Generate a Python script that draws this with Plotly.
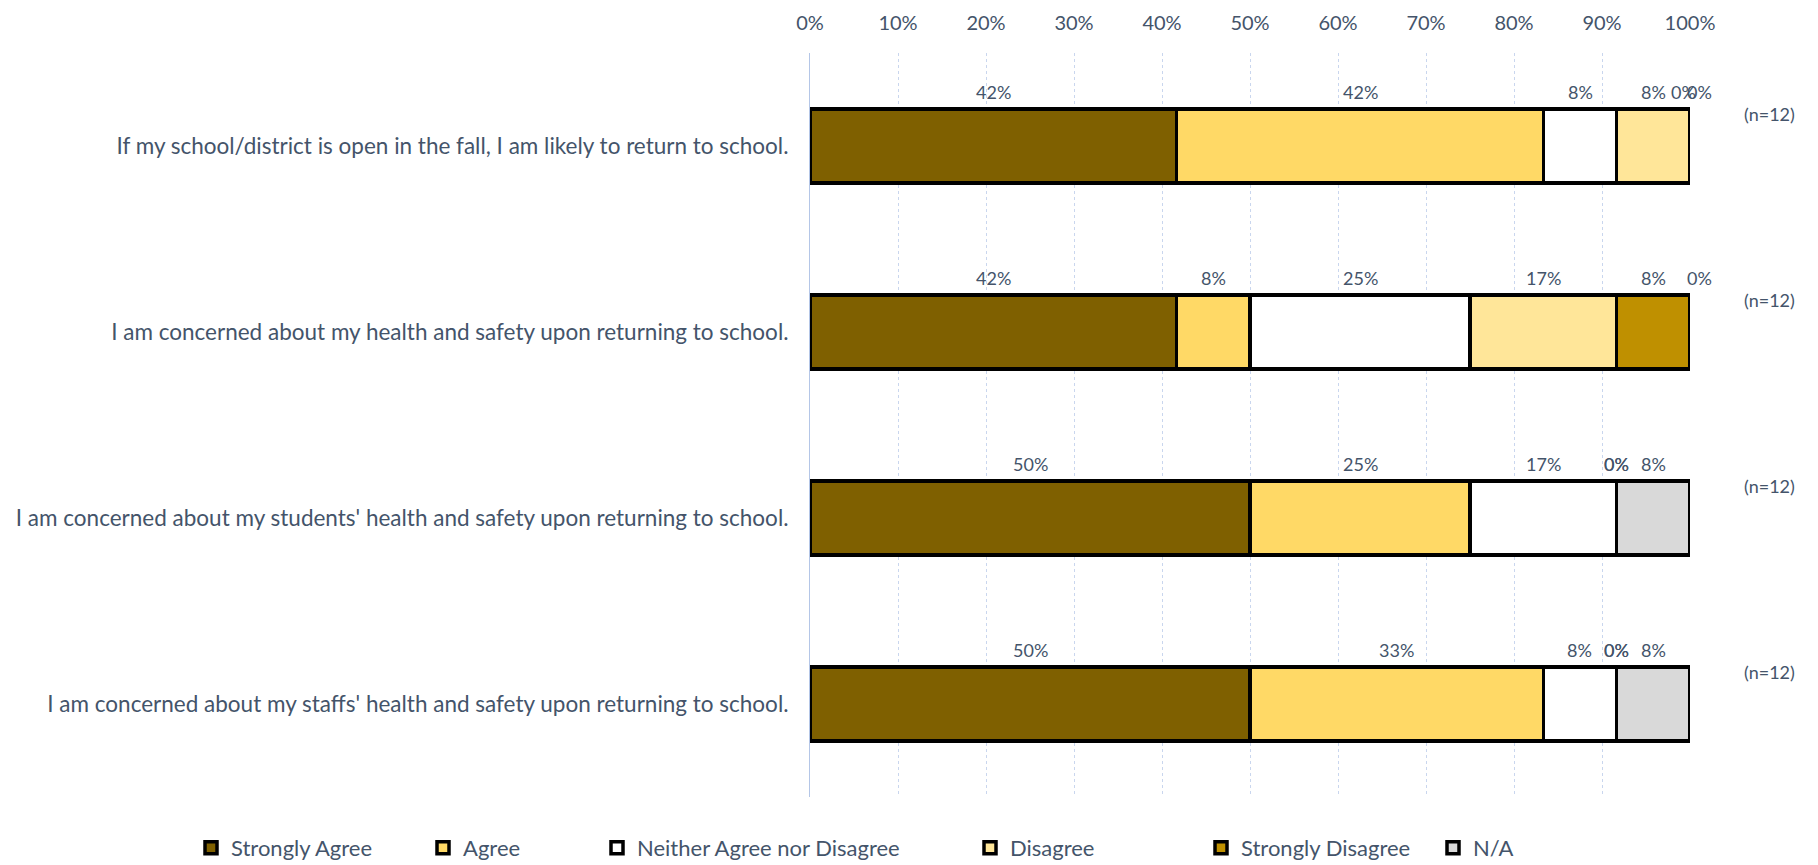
import plotly.graph_objects as go

categories = [
    "If my school/district is open in the fall, I am likely to return to school.",
    "I am concerned about my health and safety upon returning to school.",
    "I am concerned about my students' health and safety upon returning to school.",
    "I am concerned about my staffs' health and safety upon returning to school.",
]
series_names = ["Strongly Agree", "Agree", "Neither Agree nor Disagree",
                "Disagree", "Strongly Disagree", "N/A"]
strongly_agree = [41.67, 41.67, 50.0, 50.0]
agree = [41.67, 8.33, 25.0, 33.33]
neither = [8.33, 25.0, 16.67, 8.33]
disagree = [8.33, 16.67, 0.0, 0.0]
strongly_disagree = [0.0, 8.33, 0.0, 0.0]
not_applicable = [0.0, 0.0, 8.33, 8.33]
n_labels = ["(n=12)", "(n=12)", "(n=12)", "(n=12)"]
tick_vals = [0, 10, 20, 30, 40, 50, 60, 70, 80, 90, 100]
tick_text = ["0%", "10%", "20%", "30%", "40%", "50%", "60%", "70%", "80%", "90%", "100%"]

series_values = [strongly_agree, agree, neither, disagree, strongly_disagree, not_applicable]
colors = ["#7F6000", "#FFD966", "#FFFFFF", "#FFE699", "#BF9000", "#D9D9D9"]
text_color = "#44546A"
FONT = "Lato"

W, H = 1818, 865
OFF = 8  # default page body margin
ML, MR, MT, MB = 810 - OFF, 128 + OFF, 53 - OFF, 68 + OFF
PW = W - ML - MR

# legend text start positions (page px)
legend_text_px = [231, 463, 637, 1010, 1241, 1473]

fig = go.Figure()
for i, (name, vals, col) in enumerate(zip(series_names, series_values, colors)):
    fig.add_trace(go.Bar(
        y=categories, x=vals, name=name, orientation="h",
        marker=dict(color=col, line=dict(color="black", width=3.5)),
        legend=f"legend{i+2}",
        hoverinfo="x+name",
    ))

annotations = []
cum = [0.0] * len(categories)
for s, vals in enumerate(series_values):
    for r, v in enumerate(vals):
        center = cum[r] + v / 2
        xs = 0
        if v == 0 and abs(cum[r] - 100) < 0.5:
            if s == 5:
                xs = 9
            elif s == 4:
                xs = -7
        annotations.append(dict(
            x=center, y=categories[r], xref="x", yref="y",
            text=f"{round(v):d}%", showarrow=False, yshift=54, xshift=xs,
            font=dict(family=FONT, size=18, color=text_color),
        ))
        cum[r] += v

for r, lab in enumerate(n_labels):
    annotations.append(dict(
        x=1.0, y=categories[r], xref="paper", yref="y", xanchor="left",
        text=lab, showarrow=False, yshift=32, xshift=52,
        font=dict(family=FONT, size=18, color=text_color),
    ))

legends = {}
for i, tx in enumerate(legend_text_px):
    key = f"legend{i+2}"
    legends[key] = dict(
        xref="container", yref="container",
        x=(tx - OFF - 40) / W, xanchor="left",
        y=1 - (848 - OFF) / H, yanchor="middle",
        orientation="h", bgcolor="rgba(0,0,0,0)",
        font=dict(family=FONT, size=22, color=text_color),
        itemwidth=30,
    )

fig.update_layout(
    width=W, height=H,
    barmode="stack", bargap=0.6,
    paper_bgcolor="white", plot_bgcolor="white",
    margin=dict(l=ML, r=MR, t=MT, b=MB, autoexpand=False),
    annotations=annotations,
    font=dict(family=FONT, size=19, color=text_color),
    showlegend=True,
    **legends,
)
fig.update_xaxes(
    side="top", range=[0, 100], tickvals=tick_vals, ticktext=tick_text,
    showgrid=True, gridcolor="#C9D6EE", griddash="dot", gridwidth=1,
    zeroline=False, showline=False, automargin=False,
    tickfont=dict(family=FONT, size=20, color=text_color),
    ticks="", ticklabelstandoff=18, fixedrange=True,
)
fig.update_yaxes(
    categoryorder="array", categoryarray=categories, autorange="reversed",
    showgrid=False, zeroline=False, showline=True, linecolor="#B4C6E7", linewidth=1,
    automargin=False,
    tickfont=dict(family=FONT, size=22.5, color=text_color),
    ticks="", ticklabelstandoff=16,
)

fig.write_html("out.html")
